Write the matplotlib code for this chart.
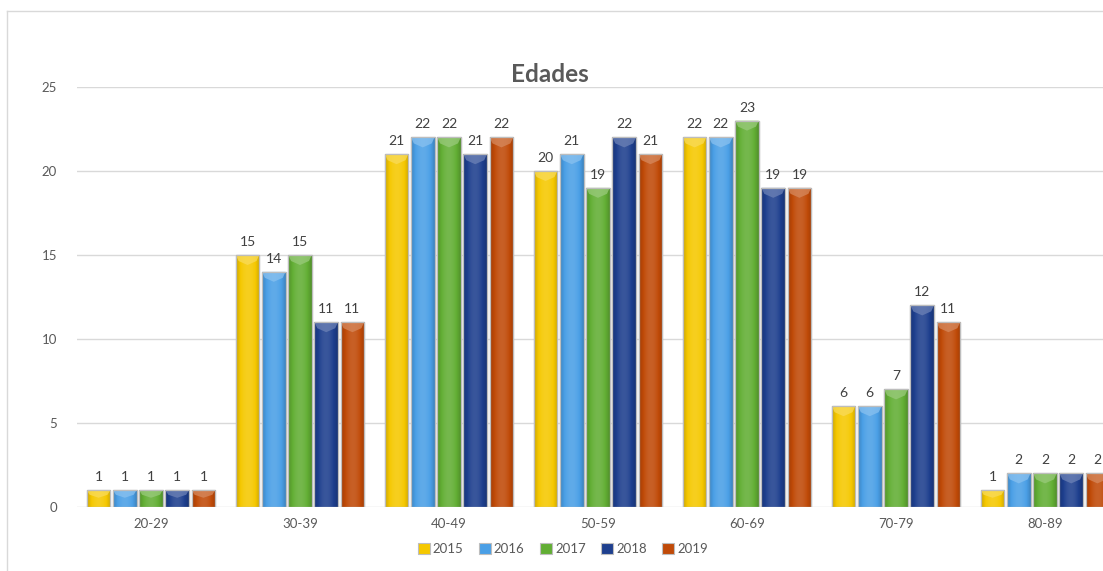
import numpy as np
import matplotlib
matplotlib.use('Agg')
import matplotlib.pyplot as plt
from matplotlib.patches import Patch, Polygon
from matplotlib.lines import Line2D
from matplotlib.colors import to_rgb

# Faixas etárias e anos
categories = ['20-29', '30-39', '40-49', '50-59', '60-69', '70-79', '80-89']
years = ['2015', '2016', '2017', '2018', '2019']
v2015 = [1, 15, 21, 20, 22, 6, 1]
v2016 = [1, 14, 22, 21, 22, 6, 2]
v2017 = [1, 15, 22, 19, 23, 7, 2]
v2018 = [1, 11, 21, 22, 19, 12, 2]
v2019 = [1, 11, 22, 21, 19, 11, 2]
series = [v2015, v2016, v2017, v2018, v2019]
colors = ['#F5C800', '#4A9FE6', '#62AE34', '#1E3F8E', '#C04A08']

plt.rcParams['font.family'] = ['Lato', 'DejaVu Sans']

W, H = 1103, 571
fig = plt.figure(figsize=(W / 100, H / 100), dpi=100)
ax = fig.add_axes([76.5 / W, 64 / H, 1043 / W, 420 / H])

ax.set_xlim(-0.5, len(categories) - 0.5)
ax.set_ylim(0, 25)
px_per_unit = 420 / 25.0


def shade(rgb, f):
    rgb = np.asarray(rgb)
    if f >= 1:
        return rgb + (1 - rgb) * (f - 1)
    return rgb * f


slot = 0.176
bw = 0.158
x = np.arange(len(categories))

for i, (vals, col) in enumerate(zip(series, colors)):
    offs = (i - (len(years) - 1) / 2) * slot
    bars = ax.bar(x + offs, vals, width=bw, color=col, edgecolor='#BDBDBD',
                  linewidth=0.9, zorder=3)
    base = np.array(to_rgb(col))
    for b, v in zip(bars, vals):
        x0 = b.get_x()
        x1 = x0 + b.get_width()
        # horizontal shading: darker edges, brighter centre
        t = np.linspace(-1, 1, 40)
        prof = 1.12 - 0.3 * t ** 2
        row = np.array([shade(base, f) for f in prof])
        img = np.clip(row[None, :, :], 0, 1)
        im = ax.imshow(img, extent=(x0, x1, 0, v), aspect='auto',
                       interpolation='bilinear', zorder=3.1)
        im.set_clip_path(b)
        # bevelled top
        d = min(10 / px_per_unit, v * 0.45)
        w = x1 - x0
        top = Polygon([(x0, v), (x1, v), (x1 - 0.12 * w, v - d * 0.6),
                       (x0 + w / 2, v - d), (x0 + 0.12 * w, v - d * 0.6)],
                      closed=True, facecolor=shade(base, 1.35),
                      edgecolor='none', alpha=0.75, zorder=3.2)
        ax.add_patch(top)
        edge = Polygon([(x0, 0), (x1, 0), (x1, v), (x0, v)], closed=True,
                       facecolor='none', edgecolor='#BDBDBD', linewidth=0.9,
                       zorder=3.3)
        ax.add_patch(edge)
        ax.annotate(str(v), (b.get_x() + w / 2, v), xytext=(0, 5),
                    textcoords='offset points', ha='center', va='bottom',
                    fontsize=10, color='#404040')

ax.set_yticks(range(0, 26, 5))
ax.set_xticks(x)
ax.set_xticklabels(categories)
ax.tick_params(axis='both', length=0, labelsize=9.5, colors='#595959')
ax.tick_params(axis='y', pad=14)
ax.tick_params(axis='x', pad=8)
ax.grid(axis='y', color='#D9D9D9', linewidth=1, zorder=0)
ax.set_axisbelow(True)
for s in ax.spines.values():
    s.set_visible(False)

fig.text(550 / W, 1 - 75 / H, 'Edades', ha='center', va='center',
         fontsize=17.5, fontweight='bold', color='#595959')

handles = [Patch(facecolor=c, edgecolor='#BDBDBD', linewidth=0.8) for c in colors]
fig.legend(handles, years, loc='center', bbox_to_anchor=(563 / W, 1 - 549 / H),
           ncol=5, frameon=False, fontsize=9.5, handlelength=0.85,
           handleheight=0.85, handletextpad=0.25, columnspacing=1.2,
           labelcolor='#595959')

# chart frame
fig.add_artist(Line2D([7 / W, 7 / W], [0, 1 - 11 / H], color='#D9D9D9', lw=1))
fig.add_artist(Line2D([7 / W, 1], [1 - 11 / H, 1 - 11 / H], color='#D9D9D9', lw=1))

fig.savefig('out.png', dpi=100, facecolor='white')
